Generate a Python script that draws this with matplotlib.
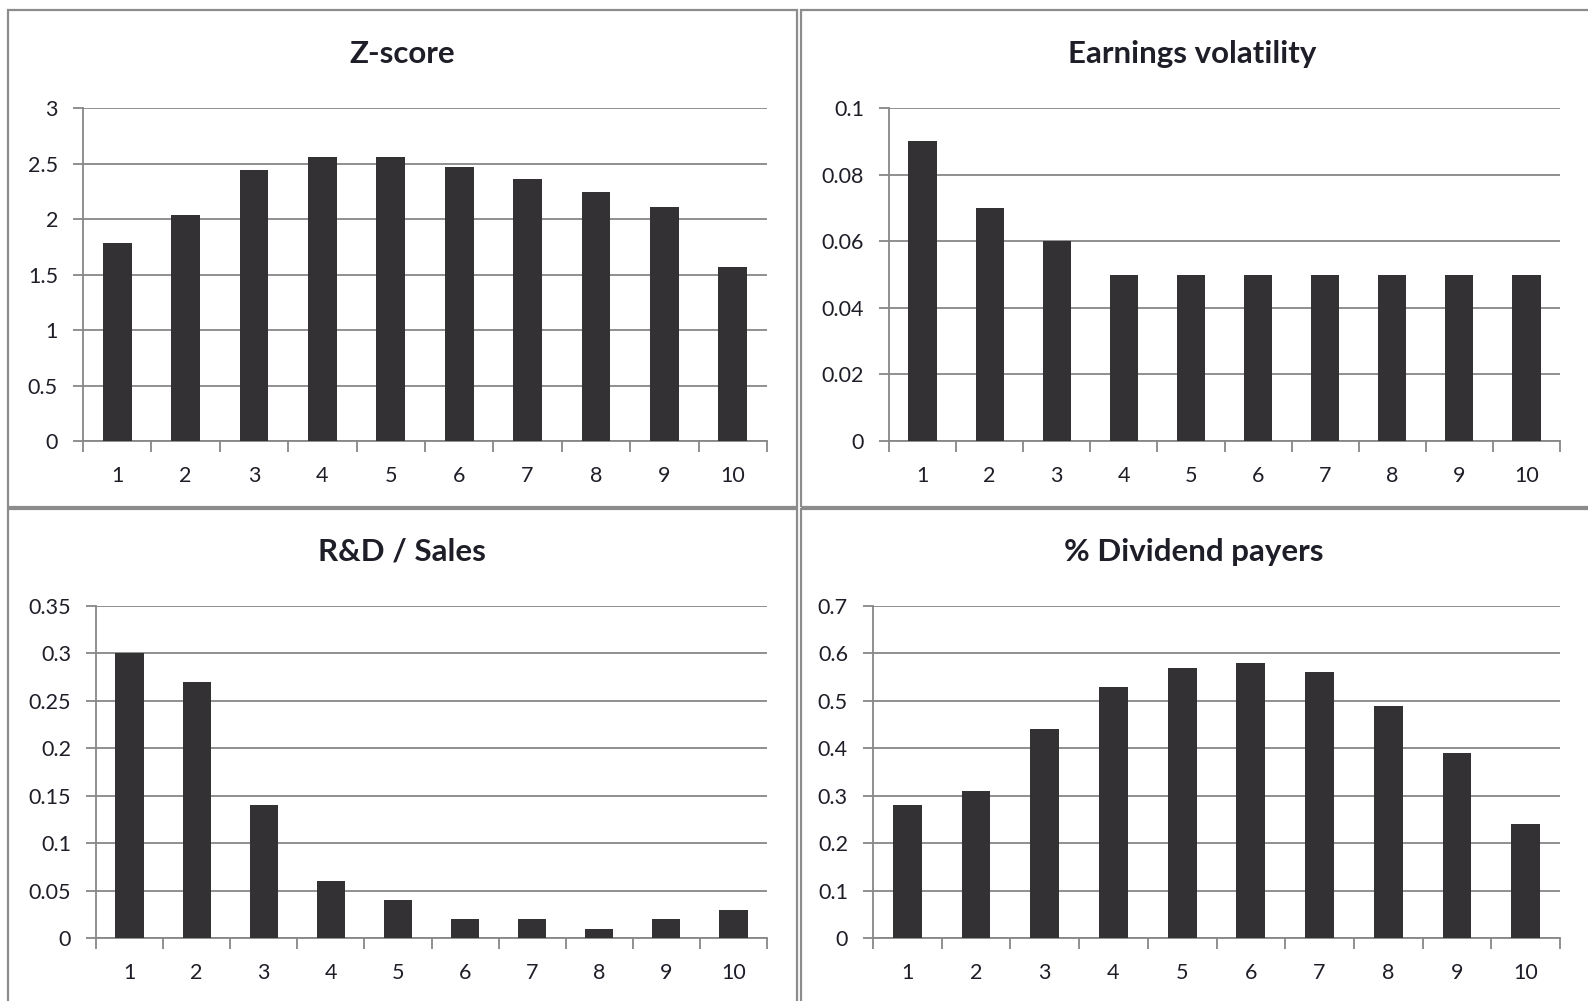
import matplotlib.pyplot as plt
from matplotlib.patches import Rectangle
import numpy as np

deciles = [1, 2, 3, 4, 5, 6, 7, 8, 9, 10]
zscore = [1.78, 2.04, 2.44, 2.56, 2.56, 2.47, 2.36, 2.24, 2.11, 1.57]
earn_vol = [0.09, 0.07, 0.06, 0.05, 0.05, 0.05, 0.05, 0.05, 0.05, 0.05]
rd_sales = [0.30, 0.27, 0.14, 0.06, 0.04, 0.02, 0.02, 0.01, 0.02, 0.03]
div_payers = [0.28, 0.31, 0.44, 0.53, 0.57, 0.58, 0.56, 0.49, 0.39, 0.24]

panels = [
    ('Z-score', zscore, [0, 0.5, 1, 1.5, 2, 2.5, 3], ['0', '0.5', '1', '1.5', '2', '2.5', '3']),
    ('Earnings volatility', earn_vol, [0, 0.02, 0.04, 0.06, 0.08, 0.1],
     ['0', '0.02', '0.04', '0.06', '0.08', '0.1']),
    ('R&D / Sales', rd_sales, [0, 0.05, 0.1, 0.15, 0.2, 0.25, 0.3, 0.35],
     ['0', '0.05', '0.1', '0.15', '0.2', '0.25', '0.3', '0.35']),
    ('% Dividend payers', div_payers, [0, 0.1, 0.2, 0.3, 0.4, 0.5, 0.6, 0.7],
     ['0', '0.1', '0.2', '0.3', '0.4', '0.5', '0.6', '0.7']),
]

W, H = 1588, 1001
BAR = '#333134'
GRID = '#878787'
TXT = '#1e1e28'

plt.rcParams['font.family'] = ['Lato', 'DejaVu Sans']

fig = plt.figure(figsize=(W / 100, H / 100), dpi=100)

# axes boxes in pixels: left, right, top, bottom
boxes = [(83, 767, 108, 441), (889, 1560, 108, 441),
         (96, 767, 606, 938), (873, 1560, 606, 938)]
# panel frames in pixels: x0, y0, x1, y1
frames = [(8, 10, 797, 507), (801, 10, 1600, 507),
          (8, 509, 797, 1010), (801, 509, 1600, 1010)]
# title centres in pixels
titles_xy = [(402, 54), (1192, 54), (402, 552), (1194, 552)]

for (title, vals, yt, ytl), (l, r, t, b), (fx0, fy0, fx1, fy1), (tx, ty) in zip(panels, boxes, frames, titles_xy):
    fig.add_artist(Rectangle((fx0 / W, 1 - fy1 / H), (fx1 - fx0) / W, (fy1 - fy0) / H,
                             transform=fig.transFigure, fill=False, edgecolor='#8c8c8c', lw=1.6))
    fig.text(tx / W, 1 - ty / H, title, ha='center', va='center', fontsize=22.5,
             fontweight='bold', color=TXT)

    ax = fig.add_axes([l / W, 1 - b / H, (r - l) / W, (b - t) / H])
    x = np.arange(len(deciles))
    ax.bar(x, vals, width=0.42, color=BAR, zorder=3)
    ax.set_xlim(-0.5, len(deciles) - 0.5)
    ax.set_ylim(yt[0], yt[-1])
    ax.set_yticks(yt)
    ax.set_yticklabels(ytl)
    ax.set_xticks(x)
    ax.set_xticklabels([str(d) for d in deciles])
    ax.set_xticks(np.arange(-0.5, len(deciles)), minor=True)
    ax.tick_params(axis='x', which='major', length=0, pad=18, labelsize=15.5, labelcolor=TXT)
    ax.tick_params(axis='x', which='minor', length=8, width=1.3, color=GRID, direction='out')
    ax.tick_params(axis='y', length=7, width=1.3, color=GRID, pad=11, labelsize=15.5, labelcolor=TXT)
    ax.grid(axis='y', color=GRID, lw=1.3, zorder=0)
    for s in ['top', 'right']:
        ax.spines[s].set_visible(False)
    for s in ['left', 'bottom']:
        ax.spines[s].set_color(GRID)
        ax.spines[s].set_linewidth(1.3)
    ax.set_facecolor('none')

fig.savefig('out.png', dpi=100)
